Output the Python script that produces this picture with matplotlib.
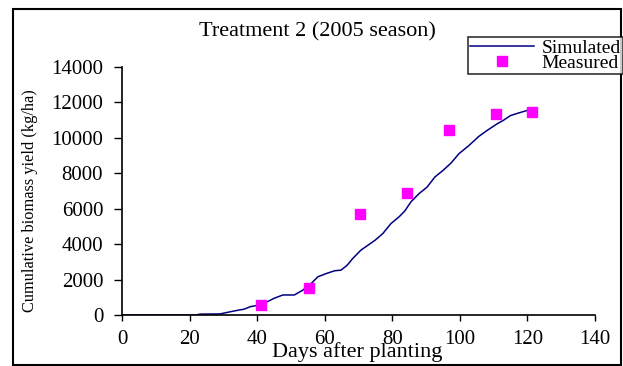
import matplotlib
matplotlib.use("Agg")
import matplotlib.pyplot as plt
from matplotlib.patches import Rectangle

# Simulated cumulative biomass (kg/ha) by days after planting
sim_days = [0, 22, 23, 29, 32, 34.6, 36, 38, 40.5, 43, 45, 47.6, 51, 53.5, 56, 58,
            60.6, 63, 64.8, 66.6, 68.3, 70.7, 72.5, 74.9, 77.2, 79.6, 82, 83.7,
            85.5, 87.9, 90.3, 92.6, 95, 97.4, 99.7, 102.7, 105.6, 108, 111, 112.8,
            115, 117.5, 120.5]
sim_yield = [0, 0, 50, 60, 180, 280, 320, 470, 560, 750, 940, 1130, 1130, 1400, 1780,
             2160, 2350, 2500, 2530, 2800, 3190, 3660, 3900, 4220, 4600, 5160, 5540,
             5870, 6380, 6850, 7220, 7790, 8160, 8580, 9100, 9570, 10080, 10410,
             10790, 10980, 11260, 11410, 11580]

# Field measurements
meas_days = [41.1, 55.3, 70.4, 84.3, 96.8, 110.6, 121.4]
meas_yield = [560, 1500, 5690, 6890, 10450, 11350, 11450]

x_ticks = [0, 20, 40, 60, 80, 100, 120, 140]
y_ticks = [0, 2000, 4000, 6000, 8000, 10000, 12000, 14000]

plt.rcParams['font.family'] = ['Liberation Serif', 'DejaVu Serif']

W, H = 623, 366
fig = plt.figure(figsize=(W / 100, H / 100), dpi=100)
fig.patch.set_facecolor('white')

# Outer frame around the whole chart
fig.add_artist(Rectangle((13 / W, 1 - 365 / H), (621 - 13) / W, (365 - 9) / H,
                         transform=fig.transFigure, fill=False,
                         edgecolor='black', linewidth=1.5))

ax = fig.add_axes([122 / W, 1 - 315 / H, (595 - 122) / W, (315 - 67) / H])
ax.plot(sim_days, sim_yield, color='#000080', linewidth=1.1, label='Simulated')
ax.plot(meas_days, meas_yield, linestyle='none', marker='s', markersize=7,
        color='#FF00FF', markeredgecolor='#FF00FF', label='Measured')

ax.set_xlim(0, 140)
ax.set_ylim(0, 14000)
ax.set_xticks(x_ticks)
ax.set_yticks(y_ticks)
ax.tick_params(axis='both', labelsize=15, direction='out', width=1,
               colors='black')
ax.tick_params(axis='x', length=4.5, pad=6.5)
ax.tick_params(axis='y', length=5.5, pad=8)
ax.spines['top'].set_visible(False)
ax.spines['right'].set_visible(False)
for s in ('left', 'bottom'):
    ax.spines[s].set_linewidth(1.2)

ax.set_xlabel('Days after planting', fontsize=16, va='center')
ax.xaxis.set_label_coords(0.497, (315 - 352) / 248)
ax.set_ylabel('Cumulative biomass yield (kg/ha)', fontsize=11.8, va='center')
ax.yaxis.set_label_coords((30 - 122) / 473, (315 - 201) / 248)

fig.text(317 / W, 1 - 32 / H, 'Treatment 2 (2005 season)', ha='center',
         va='center', fontsize=16)

leg = fig.legend(loc='upper left', bbox_to_anchor=(468 / W, 1 - 37 / H),
                 frameon=True, fancybox=False, fontsize=14, borderpad=0.1,
                 labelspacing=-0.1, handlelength=3.3, handletextpad=0.4,
                 borderaxespad=0)
leg.get_frame().set_edgecolor('black')
leg.get_frame().set_linewidth(1.2)

fig.savefig('out.png', dpi=100)
